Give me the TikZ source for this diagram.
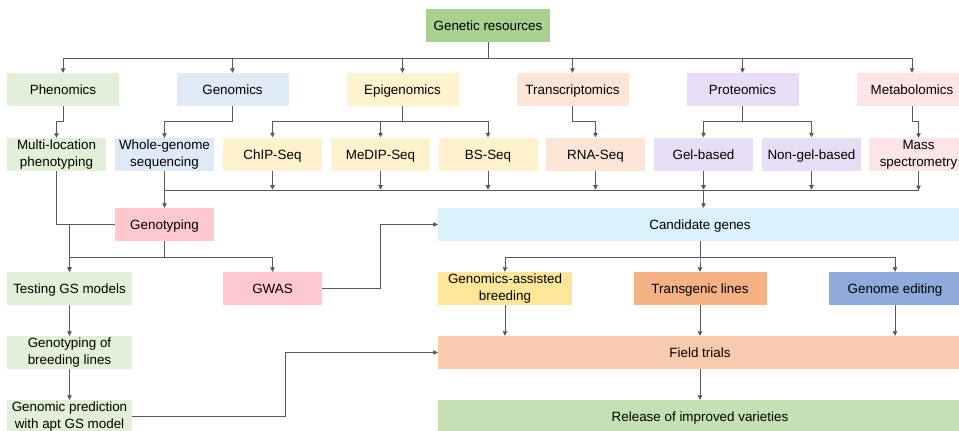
\documentclass[tikz,border=0pt]{standalone}
\usepackage{fontspec}
\setmainfont{Liberation Sans}
\usepackage{xcolor}
\usetikzlibrary{positioning,arrows.meta,calc}

\definecolor{resGreen}{RGB}{169,209,142}
\definecolor{pheGreen}{RGB}{226,240,217}
\definecolor{genBlue}{RGB}{222,235,247}
\definecolor{epiYellow}{RGB}{255,242,204}
\definecolor{traPeach}{RGB}{251,229,214}
\definecolor{proLilac}{RGB}{231,222,245}
\definecolor{metPink}{RGB}{253,229,229}
\definecolor{gtyPink}{RGB}{255,199,206}
\definecolor{candCyan}{RGB}{218,242,253}
\definecolor{gabYellow}{RGB}{255,230,153}
\definecolor{tlOrange}{RGB}{244,177,131}
\definecolor{geBlue}{RGB}{143,170,220}
\definecolor{fieldPeach}{RGB}{248,203,173}
\definecolor{relGreen}{RGB}{197,224,180}
\definecolor{connGray}{RGB}{89,89,89}

\begin{document}
\begin{tikzpicture}[x=1pt, y=-1pt,
    box/.style={minimum height=33pt, inner sep=0pt, align=center,
                text height=12pt, text depth=2pt,
                font=\fontsize{13.4}{17}\selectfont},
    twoline/.style={text height={}, text depth={}},
    wide/.style={box, minimum width=112pt},
    small/.style={box, minimum width=99pt},
    conn/.style={draw=connGray, line width=0.8pt},
    arrow/.style={conn, -{Triangle[length=4.5pt,width=4.5pt]}}
]
\useasboundingbox (0,0) rectangle (959,431);
\clip (0,0) rectangle (959,431);

% omics layers
\node[box, fill=resGreen, minimum width=124pt] (gr) at (488,25.5) {Genetic resources};
\node[wide, fill=pheGreen]  (phe) at (63,89.5)    {Phenomics};
\node[wide, fill=genBlue]   (gen) at (232.5,89.5) {Genomics};
\node[wide, fill=epiYellow] (epi) at (402.5,89.5) {Epigenomics};
\node[wide, fill=traPeach]  (tra) at (572.5,89.5) {Transcriptomics};
\node[wide, fill=proLilac]  (pro) at (742.5,89.5) {Proteomics};
\node[wide, fill=metPink, minimum width=110pt] (met) at (912,89.5) {Metabolomics};

% techniques
\node[small, twoline, fill=pheGreen] (mlp) at (56.5,154.5)  {Multi-location\\phenotyping};
\node[small, twoline, fill=genBlue]  (wgs) at (164.5,154.5) {Whole-genome\\sequencing};
\node[small, fill=epiYellow] (chip)  at (272.5,154) {ChIP-Seq};
\node[small, fill=epiYellow] (medip) at (380.5,154) {MeDIP-Seq};
\node[small, fill=epiYellow] (bs)    at (488,154)   {BS-Seq};
\node[small, fill=traPeach]  (rna)   at (595.5,154) {RNA-Seq};
\node[small, fill=proLilac]  (gel)   at (703.5,154) {Gel-based};
\node[small, fill=proLilac]  (ngel)  at (811.5,154) {Non-gel-based};
\node[small, twoline, fill=metPink] (ms) at (918.5,154.5) {Mass\\spectrometry};

% left branch
\node[small, fill=gtyPink] (gty)  at (164.5,224.5) {Genotyping};
\node[small, fill=gtyPink] (gwas) at (272.5,288.5) {GWAS};
\node[box, fill=pheGreen, minimum width=125pt] (tgs) at (69.5,288.5) {Testing GS models};
\node[box, twoline, fill=pheGreen, minimum width=125pt] (gbl) at (69.5,352.5) {Genotyping of\\breeding lines};
\node[box, twoline, fill=pheGreen, minimum width=125pt] (gp)  at (69.5,416.5) {Genomic prediction\\with apt GS model};

% right branch
\node[box, fill=candCyan, minimum width=524pt] (cand) at (700,224.5) {Candidate genes};
\node[box, twoline, fill=gabYellow, minimum width=134pt] (gab) at (505,288.5) {Genomics-assisted\\breeding};
\node[box, fill=tlOrange, minimum width=133pt]  (tl)  at (700,288.5) {Transgenic lines};
\node[box, fill=geBlue, minimum width=132pt]    (ge)  at (895,288.5) {Genome editing};
\node[box, fill=fieldPeach, minimum width=524pt] (field) at (700,352.5) {Field trials};
\node[box, fill=relGreen, minimum width=524pt]   (rel)   at (700,416.5) {Release of improved varieties};

% top tree
\foreach \n in {phe,gen,epi,tra,pro,met}
    \draw[arrow] (gr.south) -- ++(0,16.5) -| (\n.north);
\draw[arrow] (phe.south) -- ++(0,15) -| (mlp.north);
\draw[arrow] (gen.south) -- ++(0,15) -| (wgs.north);
\foreach \n in {chip,medip,bs}
    \draw[arrow] (epi.south) -- ++(0,15) -| (\n.north);
\draw[arrow] (tra.south) -- ++(0,15) -| (rna.north);
\foreach \n in {gel,ngel}
    \draw[arrow] (pro.south) -- ++(0,15) -| (\n.north);
\draw[arrow] (met.south) -- ++(0,15) -| (ms.north);

% collecting bus
\foreach \n in {chip,medip,bs,rna,gel,ngel,ms}
    \draw[arrow] (\n.south) -- ++(0,19);
\draw[conn] ($(wgs.south)+(0,19)$) -- ($(ms.south)+(0,19)$);
\draw[arrow] (wgs) -- (gty);
\draw[arrow] ($(gel.south)+(0,19)$) -- (gel.south |- cand.north);

% genomic selection
\draw[conn] (mlp.south) |- (gty.west);
\draw[arrow] (tgs.north |- gty.west) -- (tgs.north);
\draw[arrow] (gty.south) -- ++(0,16) -| (tgs.north);
\draw[arrow] (gty.south) -- ++(0,16) -| (gwas.north);
\draw[arrow] (gwas.east) -- ++(58,0) |- (cand.west);
\draw[arrow] (tgs) -- (gbl);
\draw[arrow] (gbl) -- (gp);
\draw[arrow] (gp.east) -- ++(153,0) |- (field.west);

% candidate genes to release
\foreach \n in {gab,tl,ge} {
    \draw[arrow] (cand.south) -- ++(0,16) -| (\n.north);
    \draw[arrow] (\n.south) -- (\n.south |- field.north);
}
\draw[arrow] (field) -- (rel);
\end{tikzpicture}
\end{document}
